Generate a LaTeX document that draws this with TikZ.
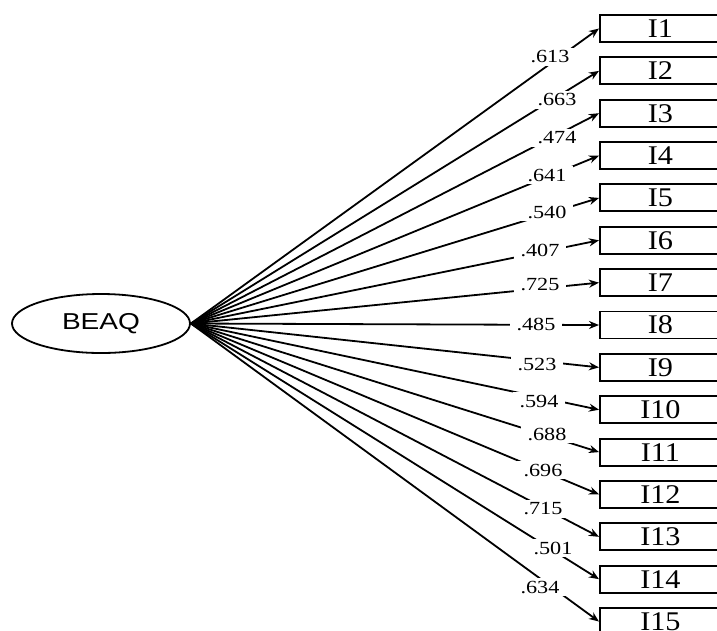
\documentclass[tikz,border=0pt]{standalone}
\usepackage{fontspec}
\setmainfont{Liberation Serif}
\newfontfamily\arialf{Liberation Sans}
\usetikzlibrary{shapes.geometric,arrows.meta}
\begin{document}
\begin{tikzpicture}[x=1pt,y=-1pt,
  itembox/.style={draw,line width=1.9pt,minimum width=121pt,minimum height=27pt,inner sep=0pt,anchor=west,
    font=\fontsize{27}{27}\selectfont},
  latent/.style={draw,ellipse,line width=1.8pt,minimum width=178pt,minimum height=59pt,inner sep=0pt,
    font=\arialf\fontsize{23}{23}\selectfont},
  loadlbl/.style={fill=white,inner xsep=7pt,inner ysep=3pt,font=\fontsize{18.5}{18.5}\selectfont},
  conn/.style={line width=1.8pt,-{Stealth[length=10pt,width=8pt]}}
]
\useasboundingbox (0,0) rectangle (717,630);
\clip (0,0) rectangle (717,630);
\fill[white] (0,0) rectangle (717,630);
\node[latent] (beaq) at (101,323.5) {\scalebox{1.22}[1]{BEAQ}};
\foreach \i in {1,...,15}{
  \node[itembox] (I\i) at ({599},{28.5+42.36*(\i-1)}) {\scalebox{1.12}[1]{I\i}};
}
\foreach \i in {1,...,15}{
  \draw[conn] (beaq.east) -- (I\i.west);
}
\foreach \v/\px/\py [count=\k] in {.613/550/57,.663/557/100,.474/557/138,.641/547/175,.540/547/212,
  .407/540/250,.725/540/284,.485/536/324,.523/537/364,.594/539/401,.688/547/434,.696/543/470,
  .715/543/509,.501/553/548,.634/540/587}{
  \node[loadlbl] (L\k) at (\px,\py) {\scalebox{1.2}[1]{\v}};
}
\end{tikzpicture}
\end{document}
